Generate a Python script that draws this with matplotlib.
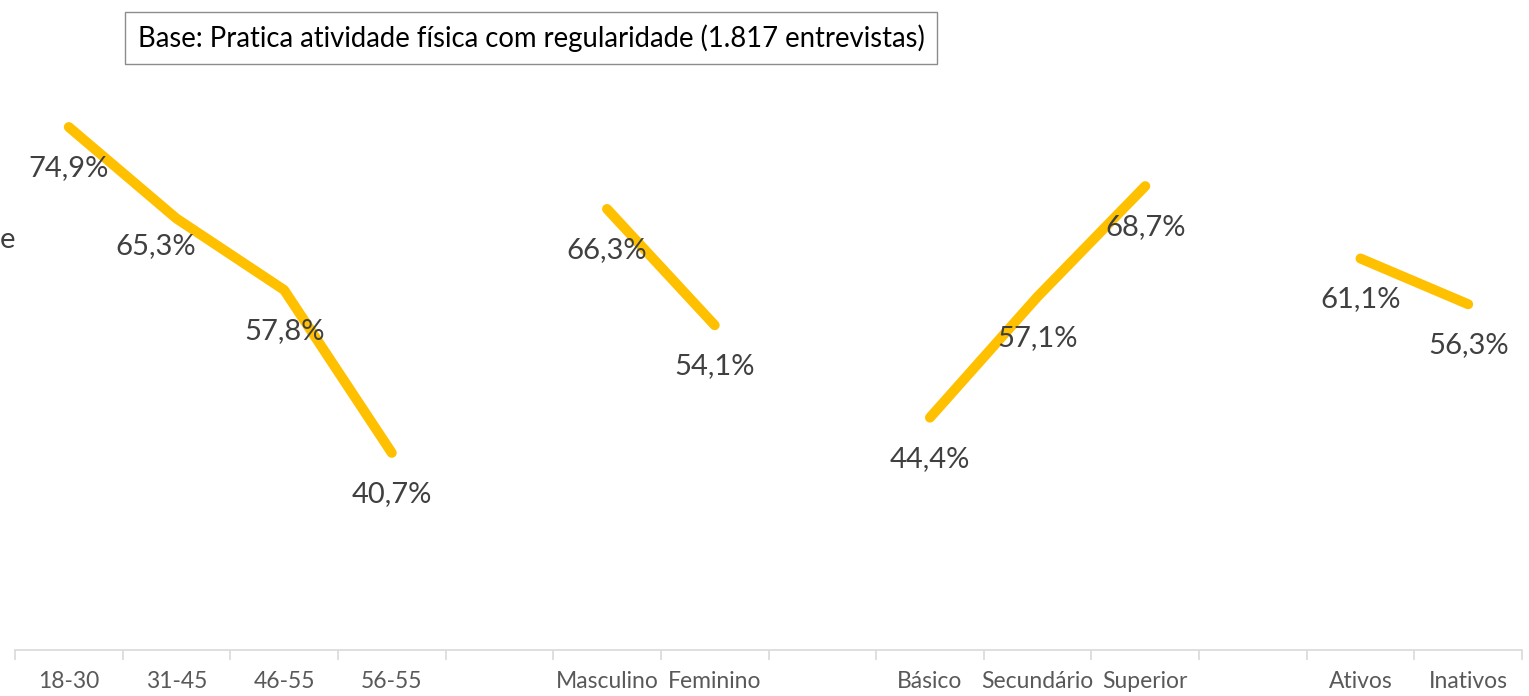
import numpy as np
import matplotlib
matplotlib.use("Agg")
import matplotlib.pyplot as plt

# categories (blank entries are the gaps between groups)
categorias = ["18-30", "31-45", "46-55", "56-55", "",
              "Masculino", "Feminino", "",
              "Básico", "Secundário", "Superior", "",
              "Ativos", "Inativos"]
valores = [74.9, 65.3, 57.8, 40.7, np.nan,
           66.3, 54.1, np.nan,
           44.4, 57.1, 68.7, np.nan,
           61.1, 56.3]
titulo = "Base: Pratica atividade física com regularidade (1.817 entrevistas)"

# label offsets in points (one label was nudged by hand in the original)
desloc = {1: (-15, 20)}

plt.rcParams['font.family'] = ['Lato', 'DejaVu Sans']

fig = plt.figure(figsize=(15.29, 6.96), dpi=100)
ax = fig.add_axes([15/1529, 46/696, 1507/1529, 571.5/696])

x = np.arange(len(categorias))
v = np.array(valores, dtype=float)
ax.plot(x, v, color="#FFC000", lw=7.2, solid_capstyle="round",
        solid_joinstyle="round")

for i, val in enumerate(valores):
    if np.isnan(val):
        continue
    dx, dy = desloc.get(i, (0, 29.5))
    ax.annotate(f"{val:.1f}%".replace(".", ","), (i, val),
                xytext=(dx, -dy), textcoords="offset points",
                ha="center", va="center", fontsize=21, color="#404040")

ax.set_xlim(-0.5, len(categorias) - 0.5)
ax.set_ylim(20, 80)
ax.set_yticks([])
ax.set_xticks(x)
ax.set_xticklabels(categorias, fontsize=16.5, color="#595959")
ax.set_xticks(np.arange(-0.5, len(categorias)), minor=True)
ax.tick_params(axis="x", which="major", length=0, pad=15)
ax.tick_params(axis="x", which="minor", length=7, color="#D9D9D9", width=1.2)
for s in ["top", "left", "right"]:
    ax.spines[s].set_visible(False)
ax.spines["bottom"].set_color("#D9D9D9")
ax.spines["bottom"].set_linewidth(1.2)

fig.text(531/1529, 1 - 38/696, titulo, ha="center", va="center",
         fontsize=19.8, color="black",
         bbox=dict(boxstyle="square,pad=0.45", fc="white", ec="#8C8C8C", lw=1))

# partly visible text at the left edge of the original
fig.text(0, 1 - 240/696, "e", ha="left", va="center",
         fontsize=21, color="#404040")

fig.savefig("out.png", dpi=100)
